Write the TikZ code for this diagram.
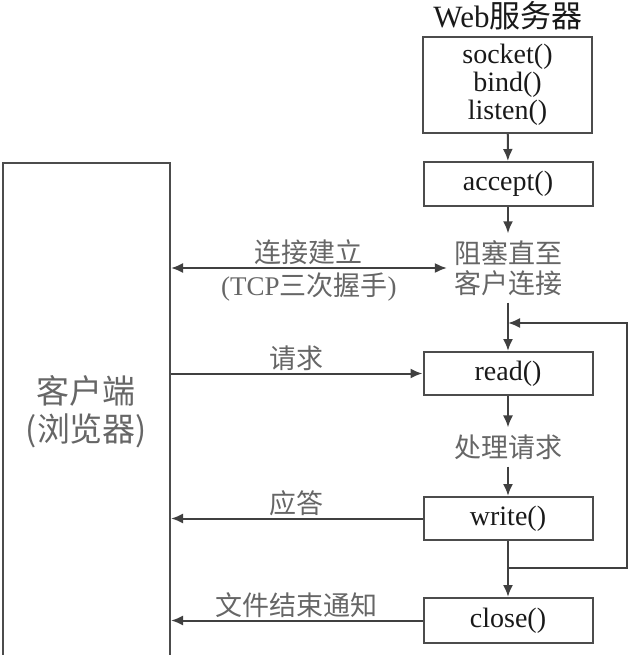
\documentclass[tikz,border=0pt]{standalone}
\usepackage{fontspec}
\setmainfont{Liberation Serif}
\newfontfamily\cjk{Noto Sans CJK SC}
\usetikzlibrary{arrows.meta,positioning}

\begin{document}
\begin{tikzpicture}[x=0.5pt, y=-0.5pt,
  box/.style={draw=black!70, line width=1pt, minimum width=84.5pt, align=center,
    inner sep=2pt, font=\fontsize{14pt}{14pt}\selectfont, text=black!90},
  note/.style={align=center, font=\cjk\fontsize{13.5pt}{15pt}\selectfont, text=black!60},
  lbl/.style={inner sep=1pt, font=\fontsize{13.5pt}{15pt}\selectfont, text=black!60},
  flow/.style={->, draw=black!75, line width=1pt},
  >={Latex[length=6pt,width=5pt]}]
  \useasboundingbox (0,0) rectangle (638,655);
  % server side
  \node[font=\fontsize{15.5pt}{16pt}\selectfont, text=black!90] (web) at (508,16) {Web{\cjk 服务器}};
  \node[box, minimum height=48pt] (sock) at (507.5,85) {socket()\\bind()\\listen()};
  \node[box, minimum height=22pt] (accept) at (508,184) {accept()};
  \node[note] (block) at (508,268) {阻塞直至\\客户连接};
  \node[box, minimum height=21.5pt] (read) at (508,373.5) {read()};
  \node[note] (proc) at (508,447) {处理请求};
  \node[box, minimum height=21.5pt] (write) at (508,518.5) {write()};
  \node[box, minimum height=22.5pt] (close) at (508,620.5) {close()};
  % browser side
  \node[draw=black!70, line width=1pt, minimum width=83.5pt, minimum height=249pt,
    align=center, font=\cjk\fontsize{16.5pt}{19pt}\selectfont, text=black!60]
    (client) at (86.5,412) {客户端\\(浏览器)};
  \coordinate (jt) at (508,323);
  \coordinate (jb) at (508,568);
  \draw[flow] (sock) -- (accept);
  \draw[flow] (accept) -- (block);
  \draw[flow] (block) -- (read);
  \draw[flow] (read) -- (proc);
  \draw[flow] (proc) -- (write);
  \draw[flow] (write) -- (close);
  \draw[flow] (jb) -- ++(119,0) |- (jt);
  % messages
  \draw[flow, <->] (block.west -| client.east) -- (block.west)
    node[midway, above=0pt, lbl] {\cjk 连接建立}
    node[midway, below=1pt, lbl] {(TCP{\cjk 三次握手})};
  \draw[flow] (read.west -| client.east) -- (read.west)
    node[midway, above=0pt, lbl] {\cjk 请求};
  \draw[flow] (write.west) -- (write.west -| client.east)
    node[midway, above=0pt, lbl] {\cjk 应答};
  \draw[flow] (close.west) -- (close.west -| client.east)
    node[midway, above=0pt, lbl] {\cjk 文件结束通知};
\end{tikzpicture}
\end{document}
